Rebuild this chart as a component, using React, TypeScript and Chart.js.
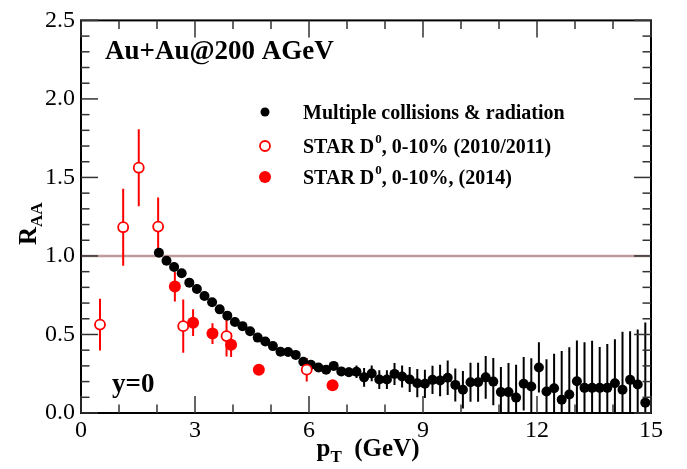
import React, { useEffect, useRef } from "react";
import { Chart, registerables } from "chart.js";

Chart.register(...registerables);

// ---- data ----
const modelPt = [
  2.05, 2.25, 2.45, 2.65, 2.85, 3.05, 3.25, 3.45, 3.65, 3.85,
  4.05, 4.25, 4.45, 4.65, 4.85, 5.05, 5.25, 5.45, 5.65, 5.85,
  6.05, 6.25, 6.45, 6.65, 6.85, 7.05, 7.25, 7.45, 7.65, 7.85,
  8.05, 8.25, 8.45, 8.65, 8.85, 9.05, 9.25, 9.45, 9.65, 9.85,
  10.05, 10.25, 10.45, 10.65, 10.85, 11.05, 11.25, 11.45, 11.65, 11.85,
  12.05, 12.25, 12.45, 12.65, 12.85, 13.05, 13.25, 13.45, 13.65, 13.85,
  14.05, 14.25, 14.45, 14.65, 14.85,
];
const modelRaa = [
  1.02, 0.97, 0.93, 0.89, 0.83, 0.79, 0.745, 0.705, 0.66, 0.62,
  0.58, 0.553, 0.52, 0.48, 0.455, 0.426, 0.39, 0.389, 0.37, 0.326,
  0.307, 0.29, 0.276, 0.3, 0.265, 0.259, 0.263, 0.227, 0.252, 0.213,
  0.213, 0.249, 0.232, 0.213, 0.19, 0.186, 0.211, 0.207, 0.224, 0.179,
  0.148, 0.196, 0.196, 0.227, 0.2, 0.133, 0.133, 0.098, 0.186, 0.169,
  0.29, 0.137, 0.158, 0.085, 0.118, 0.202, 0.16, 0.16, 0.16, 0.16,
  0.19, 0.148, 0.211, 0.181, 0.066,
];
const modelErr = [
  0.01, 0.01, 0.01, 0.01, 0.01, 0.01, 0.01, 0.01, 0.01, 0.01,
  0.01, 0.01, 0.01, 0.01, 0.01, 0.01, 0.01, 0.015, 0.015, 0.015,
  0.02, 0.02, 0.02, 0.02, 0.025, 0.03, 0.04, 0.06, 0.05, 0.06,
  0.06, 0.07, 0.07, 0.08, 0.09, 0.09, 0.09, 0.1, 0.11, 0.105,
  0.12, 0.124, 0.124, 0.136, 0.15, 0.16, 0.185, 0.21, 0.17, 0.18,
  0.16, 0.205, 0.22, 0.31, 0.3, 0.26, 0.29, 0.3, 0.26, 0.28,
  0.28, 0.37, 0.31, 0.35, 0.51,
];
const star1011Pt = [0.5, 1.11, 1.52, 2.03, 2.69, 3.83, 5.94];
const star1011Raa = [0.563, 1.183, 1.562, 1.187, 0.553, 0.49, 0.276];
const star1011Err = [0.165, 0.245, 0.245, 0.185, 0.17, 0.13, 0.075];
const star14Pt = [2.47, 2.95, 3.46, 3.95, 4.68, 6.62];
const star14Raa = [0.805, 0.575, 0.506, 0.434, 0.275, 0.176];
const star14Err = [0.095, 0.085, 0.066, 0.077, 0.02, 0.02];

const xMajorTicks = [0, 3, 6, 9, 12, 15];
const xMinorTicks = [1, 2, 4, 5, 7, 8, 10, 11, 13, 14];
const yMajorTicks = [0, 0.5, 1.0, 1.5, 2.0, 2.5];
const yMinorTicks = [
  0.1, 0.2, 0.3, 0.4, 0.6, 0.7, 0.8, 0.9, 1.1, 1.2, 1.3, 1.4,
  1.6, 1.7, 1.8, 1.9, 2.1, 2.2, 2.3, 2.4,
];
const referenceLevel = 1.0;

const legendLabels = [
  "Multiple collisions & radiation",
  "STAR D|0|, 0-10% (2010/2011)",
  "STAR D|0|, 0-10%, (2014)",
];
const systemLabel = "Au+Au@200 AGeV";
const rapidityLabel = "y=0";

const SERIF = "'Liberation Serif', 'Times New Roman', Times, serif";
const RED = "#ff0000";

function toPoints(xs: number[], ys: number[]) {
  return xs.map((x, i) => ({ x, y: ys[i] }));
}

const overlayPlugin = {
  id: "overlay",
  beforeDatasetsDraw(chart: any) {
    const { ctx, chartArea: a } = chart;
    const xs = chart.scales.x;
    const ys = chart.scales.y;
    ctx.save();
    ctx.beginPath();
    ctx.rect(a.left, a.top, a.right - a.left, a.bottom - a.top);
    ctx.clip();
    // reference line
    const yr = ys.getPixelForValue(referenceLevel);
    ctx.strokeStyle = "#bf9a9a";
    ctx.lineWidth = 2.5;
    ctx.beginPath();
    ctx.moveTo(a.left, yr);
    ctx.lineTo(a.right, yr);
    ctx.stroke();
    // error bars
    chart.data.datasets.forEach((ds: any) => {
      const errs: number[] = ds.errs || [];
      ctx.strokeStyle = ds.barColor;
      ctx.lineWidth = 2;
      ds.data.forEach((p: any, j: number) => {
        const e = errs[j] || 0;
        if (!e) return;
        const px = xs.getPixelForValue(p.x);
        ctx.beginPath();
        ctx.moveTo(px, ys.getPixelForValue(p.y - e));
        ctx.lineTo(px, ys.getPixelForValue(p.y + e));
        ctx.stroke();
      });
    });
    ctx.restore();
  },
  afterDraw(chart: any) {
    const { ctx, chartArea: a } = chart;
    const xs = chart.scales.x;
    const ys = chart.scales.y;
    ctx.save();
    // frame
    ctx.strokeStyle = "#000";
    ctx.lineWidth = 2;
    ctx.strokeRect(a.left, a.top, a.right - a.left, a.bottom - a.top);
    // ticks
    ctx.lineWidth = 1.5;
    ctx.strokeStyle = "#333";
    const tick = (x1: number, y1: number, x2: number, y2: number) => {
      ctx.beginPath();
      ctx.moveTo(x1, y1);
      ctx.lineTo(x2, y2);
      ctx.stroke();
    };
    const MAJ = 17, MIN = 8.5;
    xMajorTicks.forEach((v) => {
      const px = xs.getPixelForValue(v);
      tick(px, a.bottom, px, a.bottom - MAJ);
      tick(px, a.top, px, a.top + MAJ);
    });
    xMinorTicks.forEach((v) => {
      const px = xs.getPixelForValue(v);
      tick(px, a.bottom, px, a.bottom - MIN);
      tick(px, a.top, px, a.top + MIN);
    });
    yMajorTicks.forEach((v) => {
      const py = ys.getPixelForValue(v);
      tick(a.left, py, a.left + MAJ, py);
      tick(a.right, py, a.right - MAJ, py);
    });
    yMinorTicks.forEach((v) => {
      const py = ys.getPixelForValue(v);
      tick(a.left, py, a.left + MIN, py);
      tick(a.right, py, a.right - MIN, py);
    });

    ctx.fillStyle = "#000";
    ctx.textBaseline = "alphabetic";
    ctx.textAlign = "left";
    // system label
    ctx.font = `bold 27px ${SERIF}`;
    ctx.fillText(systemLabel, 105, 59);
    // rapidity label
    ctx.fillText(rapidityLabel, 112, 392);

    // x axis title
    const big = `bold 25px ${SERIF}`;
    const sub = `bold 17px ${SERIF}`;
    ctx.font = big;
    const wp = ctx.measureText("p").width;
    ctx.font = sub;
    const wT = ctx.measureText("T").width;
    ctx.font = big;
    const rest = "  (GeV)";
    const wr = ctx.measureText(rest).width;
    const total = wp + wT + wr;
    const sx = (a.left + a.right) / 2 - total / 2 + 2;
    const by = 456;
    ctx.fillText("p", sx, by);
    ctx.font = sub;
    ctx.fillText("T", sx + wp, by + 6);
    ctx.font = big;
    ctx.fillText(rest, sx + wp + wT, by);

    // y axis title
    ctx.save();
    ctx.translate(36, (a.top + a.bottom) / 2 + 7);
    ctx.rotate(-Math.PI / 2);
    ctx.font = big;
    const wR = ctx.measureText("R").width;
    ctx.font = sub;
    const wAA = ctx.measureText("AA").width;
    const t2 = wR + wAA;
    ctx.font = big;
    ctx.fillText("R", -t2 / 2, 0);
    ctx.font = sub;
    ctx.fillText("AA", -t2 / 2 + wR, 6);
    ctx.restore();

    // legend
    const lx = 265;
    const tx = 303;
    const rows = [112, 146, 177];
    ctx.fillStyle = "#000";
    ctx.beginPath();
    ctx.arc(lx, rows[0], 4.5, 0, Math.PI * 2);
    ctx.fill();
    ctx.fillStyle = "#fff";
    ctx.strokeStyle = RED;
    ctx.lineWidth = 1.8;
    ctx.beginPath();
    ctx.arc(lx, rows[1], 5, 0, Math.PI * 2);
    ctx.fill();
    ctx.stroke();
    ctx.fillStyle = RED;
    ctx.beginPath();
    ctx.arc(lx, rows[2], 6, 0, Math.PI * 2);
    ctx.fill();
    ctx.fillStyle = "#000";
    const lf = `bold 20px ${SERIF}`;
    const lsup = `bold 13px ${SERIF}`;
    legendLabels.forEach((label, i) => {
      const parts = label.split("|");
      let cx = tx;
      const base = rows[i] + 7;
      parts.forEach((part, k) => {
        if (k % 2 === 1) {
          ctx.font = lsup;
          ctx.fillText(part, cx + 1, base - 10);
          cx += ctx.measureText(part).width + 1;
        } else {
          ctx.font = lf;
          ctx.fillText(part, cx, base);
          cx += ctx.measureText(part).width;
        }
      });
    });
    ctx.restore();
  },
};

export default function App() {
  const ref = useRef<HTMLCanvasElement | null>(null);
  useEffect(() => {
    if (!ref.current) return;
    Chart.defaults.font.family = SERIF;
    const chart = new Chart(ref.current, {
      type: "scatter",
      data: {
        datasets: [
          {
            label: "Multiple collisions & radiation",
            data: toPoints(modelPt, modelRaa),
            errs: modelErr,
            barColor: "#000",
            pointRadius: 5,
            pointBackgroundColor: "#000",
            pointBorderColor: "#000",
            pointBorderWidth: 0,
            order: 3,
          } as any,
          {
            label: "STAR D0, 0-10% (2010/2011)",
            data: toPoints(star1011Pt, star1011Raa),
            errs: star1011Err,
            barColor: RED,
            pointRadius: 5,
            pointBackgroundColor: "#fff",
            pointBorderColor: RED,
            pointBorderWidth: 1.8,
            order: 2,
          } as any,
          {
            label: "STAR D0, 0-10%, (2014)",
            data: toPoints(star14Pt, star14Raa),
            errs: star14Err,
            barColor: RED,
            pointRadius: 6,
            pointBackgroundColor: RED,
            pointBorderColor: RED,
            pointBorderWidth: 0,
            order: 1,
          } as any,
        ],
      },
      options: {
        animation: false,
        responsive: false,
        maintainAspectRatio: false,
        devicePixelRatio: 1,
        layout: { padding: { top: 15, right: 36, left: 0, bottom: 0 } },
        plugins: {
          legend: { display: false },
          tooltip: { enabled: false },
        },
        events: [],
        scales: {
          x: {
            type: "linear",
            min: 0,
            max: 15,
            grid: { display: false, drawTicks: false },
            border: { display: false },
            ticks: {
              stepSize: 3,
              autoSkip: false,
              maxRotation: 0,
              padding: 3,
              color: "#000",
              font: { size: 24, family: SERIF },
            },
            afterFit: (s: any) => {
              s.height = 56;
            },
          },
          y: {
            type: "linear",
            min: 0,
            max: 2.5,
            grid: { display: false, drawTicks: false },
            border: { display: false },
            ticks: {
              stepSize: 0.5,
              autoSkip: false,
              padding: 6,
              color: "#000",
              font: { size: 24, family: SERIF },
              callback: (v: any) => Number(v).toFixed(1),
            },
            afterFit: (s: any) => {
              s.width = 81;
            },
          },
        },
      },
      plugins: [overlayPlugin],
    });
    return () => chart.destroy();
  }, []);
  return (
    <div style={{ position: "absolute", left: 0, top: 0, width: 687, height: 469, background: "#fff" }}>
      <canvas ref={ref} width={687} height={469} style={{ width: 687, height: 469, display: "block" }} />
    </div>
  );
}
